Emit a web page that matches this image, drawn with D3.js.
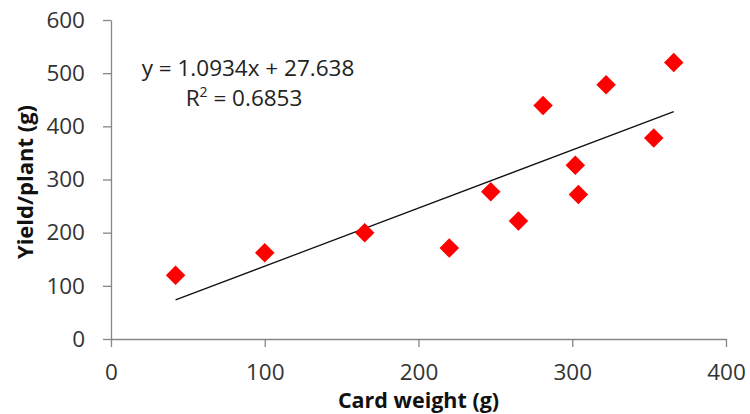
<!DOCTYPE html>
<html>
<head>
<meta charset="utf-8">
<script src="https://cdn.jsdelivr.net/npm/d3@7"></script>
<style>
  body { margin:0; background:#fff; }
  svg { display:block; }
  svg text { font-family:"Open Sans", sans-serif; }
</style>
</head>
<body>
<div id="chart"></div>
<script>
// values
const cardWeight    = [42, 100, 165, 220, 247, 265, 281, 302, 304, 322, 353, 366];
const yieldPerPlant = [120, 162, 200, 171, 277, 222, 439, 327, 272, 478, 378, 520];
const xTicks = [0, 100, 200, 300, 400];
const yTicks = [0, 100, 200, 300, 400, 500, 600];
const trendSlope = 1.0934;
const trendIntercept = 27.638;
const rSquared = "0.6853";

const width = 750, height = 414;
const margin = {top: 20, right: 24, bottom: 75, left: 111};

const svg = d3.select("#chart").append("svg")
  .attr("width", width)
  .attr("height", height);

const x = d3.scaleLinear().domain([0, 400]).range([margin.left, width - margin.right]);
const y = d3.scaleLinear().domain([0, 600]).range([height - margin.bottom, margin.top]);

// axes
svg.append("g")
  .attr("transform", "translate(0," + y(0) + ")")
  .call(d3.axisBottom(x).tickValues(xTicks).tickSize(8).tickPadding(17).tickSizeOuter(0));
svg.append("g")
  .attr("transform", "translate(" + x(0) + ",0)")
  .call(d3.axisLeft(y).tickValues(yTicks).tickSize(8).tickPadding(18).tickSizeOuter(0));

svg.selectAll(".domain, .tick line").attr("stroke", "#868686").attr("stroke-width", 1.3);
svg.selectAll(".tick text")
  .style("font-family", "'Open Sans', sans-serif")
  .style("font-size", "22.5px")
  .attr("fill", "#333");

// trend line
const x0 = d3.min(cardWeight), x1 = d3.max(cardWeight);
svg.append("line")
  .attr("x1", x(x0)).attr("y1", y(trendSlope * x0 + trendIntercept))
  .attr("x2", x(x1)).attr("y2", y(trendSlope * x1 + trendIntercept))
  .attr("stroke", "#111").attr("stroke-width", 1.3);

// points (diamonds)
const diamond = d3.symbol().type(d3.symbolSquare).size(190);
svg.selectAll("path.pt")
  .data(cardWeight)
  .enter()
  .append("path")
  .attr("class", "pt")
  .attr("d", diamond)
  .attr("fill", "#ff0000")
  .attr("transform", (d, i) => "translate(" + x(d) + "," + y(yieldPerPlant[i]) + ") rotate(45)");

// equation text
svg.append("text")
  .attr("x", 248).attr("y", 76)
  .attr("text-anchor", "middle")
  .style("font-size", "22.5px")
  .attr("fill", "#222")
  .text("y = " + trendSlope + "x + " + trendIntercept);
const r2 = svg.append("text")
  .attr("x", 244).attr("y", 106)
  .attr("text-anchor", "middle")
  .style("font-size", "22.5px")
  .attr("fill", "#222");
r2.append("tspan").text("R");
r2.append("tspan").attr("dy", -9).style("font-size", "14px").text("2");
r2.append("tspan").attr("dy", 9).text(" = " + rSquared);

// axis titles
svg.append("text")
  .attr("x", (x(0) + x(400)) / 2).attr("y", 408)
  .attr("text-anchor", "middle")
  .style("font-size", "21.5px").style("font-weight", "bold")
  .attr("fill", "#111")
  .text("Card weight (g)");
svg.append("text")
  .attr("transform", "translate(33," + 182 + ") rotate(-90)")
  .attr("text-anchor", "middle")
  .style("font-size", "22px").style("font-weight", "bold")
  .attr("fill", "#111")
  .text("Yield/plant (g)");
</script>
</body>
</html>
